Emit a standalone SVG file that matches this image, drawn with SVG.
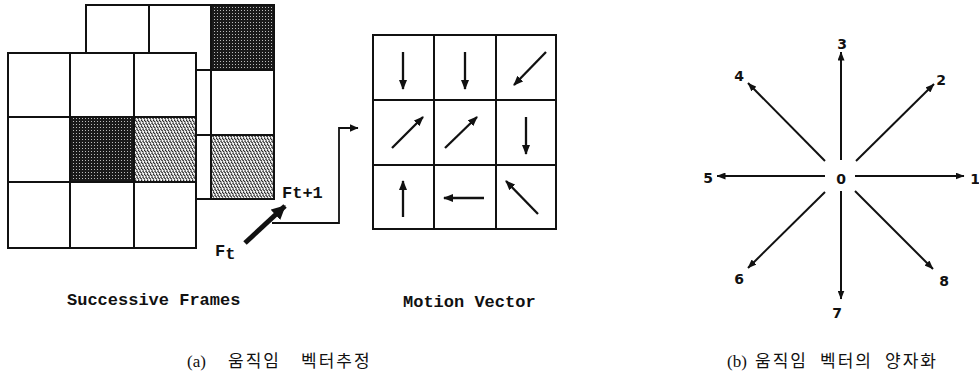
<svg xmlns="http://www.w3.org/2000/svg" width="979" height="380" viewBox="0 0 979 380">
<style>
.grid{fill:none;stroke:#111;stroke-width:2}
.cell{fill:#fff;stroke:#111;stroke-width:2}
.mono{font-family:"Liberation Mono","Courier New",monospace;font-weight:bold;fill:#111}
.num{font-family:"DejaVu Sans","Liberation Sans",sans-serif;font-weight:bold;font-size:14px;fill:#111;text-anchor:middle}
.cap{font-family:"Liberation Serif","Noto Sans CJK KR",serif;font-size:17px;fill:#111}
.kr{font-family:"Noto Sans CJK KR",sans-serif;letter-spacing:2px}
.mv{stroke:#111;stroke-width:2.3;fill:none;marker-end:url(#mh)}
.qv{stroke:#111;stroke-width:2;fill:none;marker-end:url(#qh)}
.hd{stroke:#222;stroke-width:1.2;stroke-linecap:round}
</style>
<defs>
<pattern id="dark" width="3" height="3" patternUnits="userSpaceOnUse">
<rect width="3" height="3" fill="#1a1a1a"/>
<rect x="1" y="1" width="1" height="1" fill="#bbb"/>
</pattern>
<pattern id="hatch" width="6" height="6" patternUnits="userSpaceOnUse">
<rect width="6" height="6" fill="#fff"/>
<line class="hd" x1="0.4" y1="0.4" x2="2.2" y2="2.2"/>
<line class="hd" x1="3.4" y1="0.4" x2="5.2" y2="2.2"/>
<line class="hd" x1="1.9" y1="3.4" x2="3.7" y2="5.2"/>
<line class="hd" x1="4.9" y1="3.4" x2="6.7" y2="5.2"/>
<line class="hd" x1="-1.1" y1="3.4" x2="0.7" y2="5.2"/>
</pattern>
<marker id="mh" markerWidth="10" markerHeight="8" refX="9" refY="4" orient="auto" markerUnits="userSpaceOnUse">
<path d="M0,0 L10,4 L0,8 Z" fill="#111"/>
</marker>
<marker id="qh" markerWidth="9" markerHeight="7" refX="8.5" refY="3.5" orient="auto" markerUnits="userSpaceOnUse">
<path d="M0,0 L9,3.5 L0,7 Z" fill="#111"/>
</marker>
<marker id="bh" markerWidth="14" markerHeight="14" refX="13" refY="7" orient="auto" markerUnits="userSpaceOnUse">
<path d="M0,0 L14,7 L0,14 Z" fill="#111"/>
</marker>
<marker id="ch" markerWidth="9" markerHeight="8" refX="8.5" refY="4" orient="auto" markerUnits="userSpaceOnUse">
<path d="M0,0 L9,4 L0,8 Z" fill="#111"/>
</marker>
</defs>

<g id="frame-t1">
<rect x="86" y="5" width="188" height="194" fill="#fff"/>
<rect x="211" y="5" width="63" height="65" fill="url(#dark)"/>
<rect x="211" y="135" width="63" height="64" fill="url(#hatch)"/>
<rect class="grid" x="86" y="5" width="188" height="194"/>
<line class="grid" x1="149" y1="5" x2="149" y2="199"/>
<line class="grid" x1="211" y1="5" x2="211" y2="199"/>
<line class="grid" x1="86" y1="70" x2="274" y2="70"/>
<line class="grid" x1="86" y1="135" x2="274" y2="135"/>
</g>

<g id="frame-t">
<rect class="cell" x="8" y="53" width="188" height="195"/>
<rect x="70" y="117" width="64" height="65" fill="url(#dark)"/>
<rect x="134" y="117" width="62" height="65" fill="url(#hatch)"/>
<rect class="grid" x="8" y="53" width="188" height="195"/>
<line class="grid" x1="70" y1="53" x2="70" y2="248"/>
<line class="grid" x1="134" y1="53" x2="134" y2="248"/>
<line class="grid" x1="8" y1="117" x2="196" y2="117"/>
<line class="grid" x1="8" y1="182" x2="196" y2="182"/>
</g>

<g id="labels-frames">
<text class="mono" font-size="17" x="282" y="198">Ft+1</text>
<text class="mono" font-size="17" x="215" y="256">F<tspan dy="3">t</tspan></text>
<text class="mono" font-size="17" x="67" y="305">Successive Frames</text>
</g>

<g id="motion-vector">
<rect class="grid" x="373" y="35" width="183" height="194"/>
<line class="grid" x1="434" y1="35" x2="434" y2="229"/>
<line class="grid" x1="496" y1="35" x2="496" y2="229"/>
<line class="grid" x1="373" y1="100" x2="556" y2="100"/>
<line class="grid" x1="373" y1="165" x2="556" y2="165"/>
<line class="mv" x1="403" y1="52" x2="403" y2="89"/>
<line class="mv" x1="465" y1="52" x2="465" y2="89"/>
<line class="mv" x1="546" y1="52" x2="514" y2="85"/>
<line class="mv" x1="392" y1="148" x2="423" y2="117"/>
<line class="mv" x1="445" y1="148" x2="477" y2="117"/>
<line class="mv" x1="526" y1="117" x2="526" y2="154"/>
<line class="mv" x1="403" y1="217" x2="403" y2="181"/>
<line class="mv" x1="484" y1="198" x2="444" y2="198"/>
<line class="mv" x1="538" y1="214" x2="506" y2="181"/>
<text class="mono" font-size="17" x="403" y="307">Motion Vector</text>
</g>

<g id="connectors">
<line x1="245" y1="243" x2="285" y2="206" stroke="#111" stroke-width="5" marker-end="url(#bh)"/>
<polyline points="272,223 339,223 339,128 358,128" fill="none" stroke="#111" stroke-width="1.8" marker-end="url(#ch)"/>
</g>

<g id="quantization">
<line class="qv" x1="841" y1="160" x2="841" y2="52"/>
<line class="qv" x1="841" y1="191" x2="841" y2="299"/>
<line class="qv" x1="855" y1="176" x2="964" y2="176"/>
<line class="qv" x1="825" y1="176" x2="717" y2="176"/>
<line class="qv" x1="856" y1="161" x2="934" y2="84"/>
<line class="qv" x1="825" y1="161" x2="748" y2="83"/>
<line class="qv" x1="825" y1="192" x2="748" y2="268"/>
<line class="qv" x1="855" y1="191" x2="933" y2="269"/>
<text class="num" x="841" y="184">0</text>
<text class="num" x="975" y="184">1</text>
<text class="num" x="941" y="85">2</text>
<text class="num" x="842" y="49">3</text>
<text class="num" x="739" y="81">4</text>
<text class="num" x="708" y="183">5</text>
<text class="num" x="739" y="284">6</text>
<text class="num" x="837" y="318">7</text>
<text class="num" x="944" y="286">8</text>
</g>

<g id="captions">
<text class="cap" y="367"><tspan x="187">(a)</tspan><tspan class="kr" x="228">움직임</tspan><tspan class="kr" x="301">벡터추정</tspan></text>
<text class="cap" y="367"><tspan x="727">(b)</tspan><tspan class="kr" x="755">움직임</tspan><tspan class="kr" x="820">벡터의</tspan><tspan class="kr" x="885">양자화</tspan></text>
</g>
</svg>
